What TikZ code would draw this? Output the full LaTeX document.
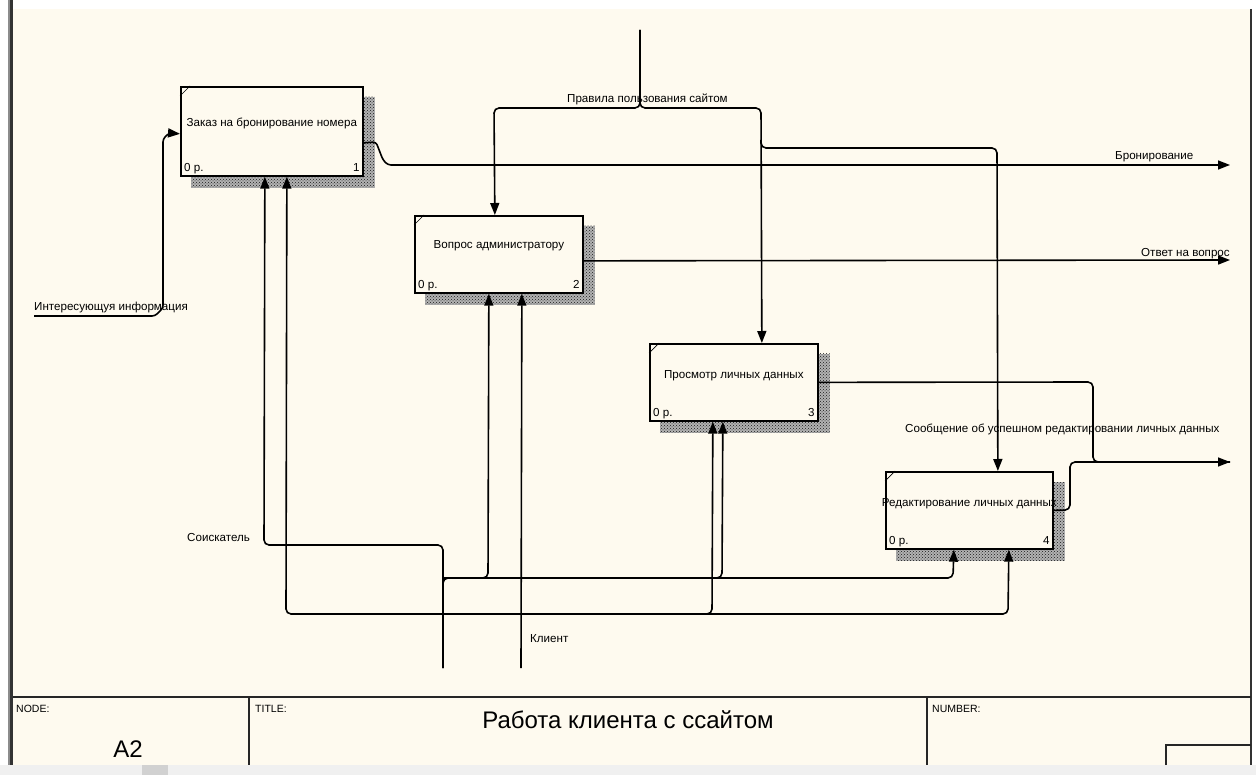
\documentclass[tikz,border=0pt]{standalone}
\usepackage{fontspec}
\setmainfont{Liberation Sans}
\usetikzlibrary{arrows.meta,patterns}
\definecolor{bgc}{HTML}{FEFAEF}
\pgfdeclarelayer{back}
\pgfdeclarelayer{shadowlayer}
\pgfsetlayers{back,shadowlayer,main}
\begin{document}
\begin{tikzpicture}[x=1pt,y=-1pt,
  flow/.style={line width=1.6pt, rounded corners=5pt},
  arr/.style={flow, -{Triangle[length=12pt,width=9pt]}},
  proc/.style={draw, line width=1.7pt, fill=bgc, anchor=north west, inner sep=0pt},
  lbl/.style={font=\fontsize{11.6}{13}\selectfont, inner sep=0pt},
  small/.style={font=\fontsize{10.5}{12}\selectfont, inner sep=0pt},
  big/.style={font=\fontsize{24}{28}\selectfont, inner sep=0pt},
  tick/.style={line width=0.7pt}
]
\useasboundingbox (0,0) rectangle (1256,775);
\begin{pgfonlayer}{back}
  \fill[white] (0,0) rectangle (1256,775);
  \fill[bgc] (13,9) rectangle (1251,765);
  \fill[black!6] (0,765) rectangle (1256,775);
  \fill[black!18] (142,765) rectangle (168,775);
  \fill[black!45] (8,0) rectangle (10,765);
  \fill[black!80] (10,0) rectangle (13,765);
\end{pgfonlayer}

% frame and title block
\draw[line width=2pt, black!80] (1251,9) -- (1251,765);
\draw[line width=1.6pt, black!85] (13,697) -- (1251,697);
\draw[line width=1.6pt, black!85] (249,697) -- (249,765);
\draw[line width=1.6pt, black!85] (927,697) -- (927,765);
\draw[line width=1.6pt, black!85] (1166,765) -- (1166,745) -- (1251,745);
\node[small, anchor=base west] (nodeL) at (16,712) {NODE:};
\node[small, anchor=base west] (titleL) at (255,712) {TITLE:};
\node[small, anchor=base west] (numL) at (932,712) {NUMBER:};
\node[big, anchor=base] (title) at (628,728) {Работа клиента с ссайтом};
\node[big, anchor=base] (a2) at (128,757) {A2};

% activity boxes
\node[proc, minimum width=182pt, minimum height=89pt] (b1) at (180,86) {};
\node[proc, minimum width=168pt, minimum height=77pt] (b2) at (414,215) {};
\node[proc, minimum width=168pt, minimum height=77pt] (b3) at (649,343) {};
\node[proc, minimum width=167pt, minimum height=77pt] (b4) at (885,471) {};

\begin{pgfonlayer}{shadowlayer}
  \foreach \b in {b1,b2,b3,b4}{
    \fill[black!30]
      ([xshift=11pt,yshift=-11pt]\b.north west) rectangle ([xshift=11pt,yshift=-11pt]\b.south east);
    \fill[pattern=crosshatch dots, pattern color=black!90]
      ([xshift=11pt,yshift=-11pt]\b.north west) rectangle ([xshift=11pt,yshift=-11pt]\b.south east);
  }
\end{pgfonlayer}

\foreach \b/\n in {b1/1,b2/2,b3/3,b4/4}{
  \draw[tick] ([yshift=-10pt]\b.north west) -- ([xshift=10pt]\b.north west);
  \node[lbl, anchor=base west] (\b z) at ([xshift=4pt,yshift=5pt]\b.south west) {0 р.};
  \node[lbl, anchor=base east] (\b n) at ([xshift=-4pt,yshift=5pt]\b.south east) {\n};
}
\node[lbl] (t1) at ([yshift=8pt]b1.center) {Заказ на бронирование номера};
\node[lbl] (t2) at ([yshift=9pt]b2.center) {Вопрос администратору};
\node[lbl] (t3) at ([yshift=7pt]b3.center) {Просмотр личных данных};
\node[lbl] (t4) at ([yshift=7pt]b4.center) {Редактирование личных данных};

% free ends
\coordinate (inI) at (34,316);
\coordinate (outB) at (1230,165);
\coordinate (outO) at (1230,260);
\coordinate (outM) at (1230,462);
\coordinate (ctl) at (640,30);
\coordinate (mS) at (443,668);
\coordinate (mK) at (521,668);

% input
\draw[arr, rounded corners=3pt] (inI) -- (155,316) -- (163,308) -- (163,139) -- (169,133) -- ([yshift=-2.5pt]b1.west);

% outputs
\draw[arr, rounded corners=3pt] ([yshift=-11.5pt]b1.east) -- (376,142) -- (383,160) -- (388,165) -- (outB);
\draw[arr] ([yshift=-6.5pt]b2.east) -- (outO);
\draw[flow] (b3.east) -- (1093,382) -- (1093,462) -- (outM);
\draw[arr] (b4.east) -- (1070,510) -- (1070,462) -- (outM);

% control
\draw[arr] (ctl) -- (640,108) -- (494,108) -- ([xshift=-4pt]b2.north);
\draw[arr] (ctl) -- (640,108) -- (761,108) -- ([xshift=28pt]b3.north);
\draw[arr] (761,140) -- (761,148) -- (997,148) -- ([xshift=28.5pt]b4.north);

% mechanisms
\draw[arr] (mS) -- (443,545) -- (264,545) -- ([xshift=-7pt]b1.south);
\draw[arr] (mS) -- (443,578) -- (953,578) -- ([xshift=-15.5pt]b4.south);
\draw[arr] (443,578) -- (488,578) -- ([xshift=-10pt]b2.south);
\draw[arr] (443,578) -- (722,578) -- ([xshift=-11pt]b3.south);
\draw[arr] (mK) -- ([xshift=23pt]b2.south);
\draw[arr] (521,614) -- (286,614) -- ([xshift=15pt]b1.south);
\draw[arr] (521,614) -- (1008,614) -- ([xshift=39.5pt]b4.south);
\draw[arr] (521,614) -- (712,614) -- ([xshift=-21pt]b3.south);

% arrow labels
\node[lbl, anchor=base west] (lI) at (34,311) {Интересующуя информация};
\node[lbl, anchor=base west] (lB) at (1115,160) {Бронирование};
\node[lbl, anchor=base west] (lO) at (1141,257) {Ответ на вопрос};
\node[lbl, anchor=base west] (lP) at (567,103) {Правила пользования сайтом};
\node[lbl, anchor=base west] (lM) at (905,432) {Сообщение об успешном редактировании личных данных};
\node[lbl, anchor=base west] (lS) at (187,541) {Соискатель};
\node[lbl, anchor=base west] (lK) at (530,642) {Клиент};
\end{tikzpicture}
\end{document}
